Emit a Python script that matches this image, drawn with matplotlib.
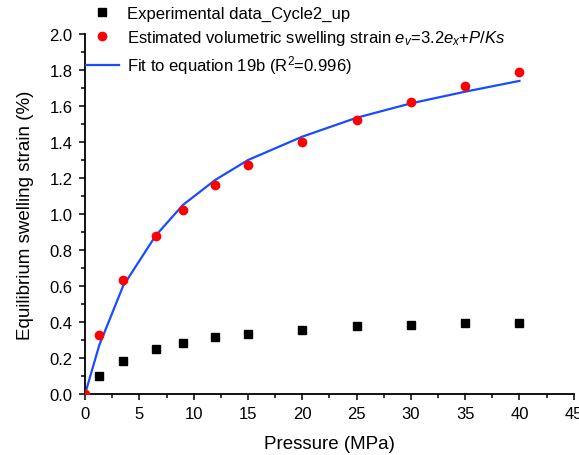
import matplotlib
matplotlib.use("Agg")
import matplotlib.pyplot as plt
from matplotlib.ticker import MultipleLocator, FormatStrFormatter

plt.rcParams['font.family'] = ['Liberation Sans', 'DejaVu Sans']
plt.rcParams['mathtext.fontset'] = 'custom'
plt.rcParams['mathtext.rm'] = 'Liberation Sans'
plt.rcParams['mathtext.it'] = 'Liberation Sans:italic'

pressure = [0, 1.3, 3.5, 6.5, 9, 12, 15, 20, 25, 30, 35, 40]
exp_strain = [0.0, 0.10, 0.185, 0.25, 0.283, 0.314, 0.335, 0.357, 0.375, 0.385, 0.392, 0.395]
est_strain = [0.0, 0.33, 0.635, 0.88, 1.02, 1.16, 1.27, 1.40, 1.525, 1.62, 1.71, 1.79]
fit_strain = [0.0, 0.27, 0.60, 0.88, 1.05, 1.19, 1.30, 1.43, 1.535, 1.615, 1.68, 1.74]

fig = plt.figure(figsize=(5.79, 4.56), dpi=100)
ax = fig.add_axes([0.147, 0.134, 0.844, 0.789])

l1, = ax.plot(pressure[1:], exp_strain[1:], 's', color='black', markersize=5.2,
              label='Experimental data_Cycle2_up', clip_on=False, zorder=3)
l2, = ax.plot(pressure, est_strain, 'o', color='#ff0000', markersize=6,
              label='Estimated volumetric swelling strain $e_v$=3.2$e_x$+$P/Ks$', zorder=3)
l3, = ax.plot(pressure, fit_strain, '-', color='#1a4cff', linewidth=1.6,
              label='Fit to equation 19b (R$^2$=0.996)', zorder=2)

ax.set_xlim(0, 45)
ax.set_ylim(0, 2.0)
ax.xaxis.set_major_locator(MultipleLocator(5))
ax.xaxis.set_minor_locator(MultipleLocator(2.5))
ax.yaxis.set_major_locator(MultipleLocator(0.2))
ax.yaxis.set_minor_locator(MultipleLocator(0.1))
ax.yaxis.set_major_formatter(FormatStrFormatter('%.1f'))
ax.tick_params(which='both', direction='out', labelsize=12, pad=5)
ax.tick_params(which='major', length=4, width=1.1)
ax.tick_params(which='minor', length=3, width=1.1)
for s in ('left', 'bottom'):
    ax.spines[s].set_linewidth(1.3)
ax.spines['top'].set_visible(False)
ax.spines['right'].set_visible(False)
ax.set_xlabel('Pressure (MPa)', fontsize=13.5, labelpad=10)
ax.set_ylabel('Equilibrium swelling strain (%)', fontsize=13.5, labelpad=11)

fig.legend(handles=[l1, l2, l3], loc='upper left', bbox_to_anchor=(0.148, 0.986),
           frameon=False, fontsize=12, handlelength=2.0, handletextpad=0.5,
           labelspacing=0.42, borderaxespad=0, borderpad=0)

fig.savefig('out.png', dpi=100)
